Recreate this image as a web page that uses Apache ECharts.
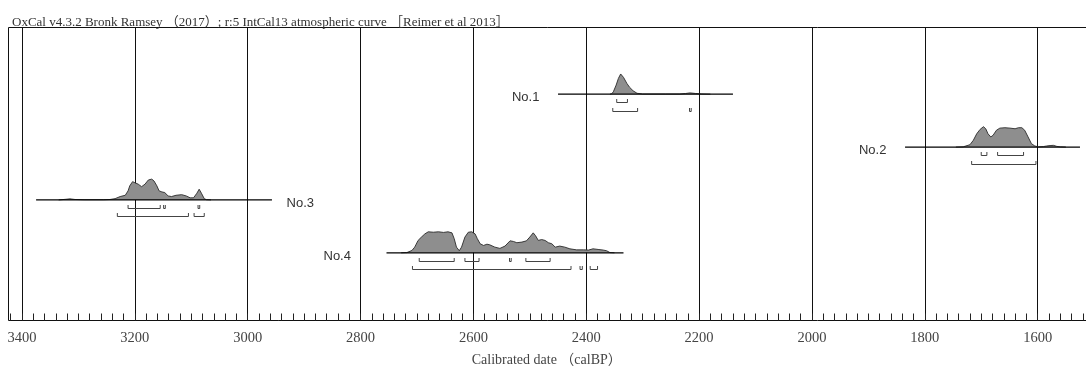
<!DOCTYPE html>
<html>
<head>
<meta charset="utf-8">
<script src="https://cdn.jsdelivr.net/npm/echarts@6/dist/echarts.min.js"></script>
<style>html,body{margin:0;padding:0;background:#fff}#c{width:1086px;height:367px}</style>
</head>
<body>
<div id="c"></div>
<script>
// ---------- data ----------
const titleText = 'OxCal v4.3.2 Bronk Ramsey （2017）; r:5 IntCal13 atmospheric curve ［Reimer et al 2013］';
const axisTitle = 'Calibrated date （calBP）';
const tickLabels = [3400, 3200, 3000, 2800, 2600, 2400, 2200, 2000, 1800, 1600];
const axisMin = 1520, axisMax = 3420, minorStep = 20, majorStep = 200;

const samples = ['No.1', 'No.2', 'No.3', 'No.4'];
const rows = [1, 2, 3, 4];
const lineStart = [2450, 1835, 3375, 2754];
const lineEnd = [2140, 1525, 2957, 2334];
const labelAt = [2483, 1868, 2931, 2817];
const labelSide = ['left', 'left', 'right', 'left'];

// relative probability (1 = maximum plotted height)
const densityNo1 = [[2358,0],[2355,0.02],[2352,0.11],[2347,0.43],[2343,0.75],[2339,0.96],[2334,0.80],[2328,0.51],[2323,0.32],[2317,0.16],[2310,0.04],[2300,0.01],[2260,0.01],[2234,0.01],[2224,0.03],[2216,0.06],[2206,0.03],[2195,0.01],[2180,0]];
const densityNo2 = [[1745,0],[1732,0.01],[1720,0.11],[1714,0.32],[1708,0.63],[1702,0.84],[1696,0.97],[1692,0.87],[1688,0.63],[1683,0.48],[1679,0.56],[1673,0.80],[1667,0.90],[1658,0.92],[1649,0.90],[1640,0.87],[1634,0.92],[1628,0.92],[1623,0.80],[1617,0.48],[1611,0.16],[1605,0.05],[1599,0.01],[1590,0.02],[1584,0.05],[1578,0.07],[1572,0.08],[1566,0.03],[1560,0.01],[1550,0]];
const densityNo3 = [[3335,0],[3322,0.03],[3315,0.05],[3306,0.02],[3290,0.01],[3255,0.01],[3244,0.02],[3235,0.06],[3226,0.16],[3217,0.22],[3212,0.43],[3209,0.67],[3204,0.87],[3200,0.82],[3194,0.75],[3188,0.63],[3182,0.75],[3176,0.95],[3170,0.99],[3166,0.90],[3161,0.67],[3157,0.43],[3152,0.38],[3147,0.35],[3141,0.19],[3135,0.16],[3127,0.22],[3117,0.25],[3109,0.19],[3102,0.10],[3096,0.10],[3090,0.32],[3086,0.51],[3082,0.32],[3077,0.06],[3073,0.01],[3065,0]];
const densityNo4 = [[2728,0],[2718,0.01],[2709,0.11],[2704,0.27],[2698,0.59],[2692,0.75],[2686,0.90],[2680,1.0],[2671,0.98],[2662,1.0],[2653,0.97],[2645,1.0],[2638,0.95],[2634,0.67],[2630,0.27],[2625,0.10],[2621,0.27],[2615,0.75],[2609,0.98],[2603,1.0],[2597,0.90],[2593,0.67],[2588,0.43],[2582,0.35],[2576,0.41],[2571,0.38],[2562,0.27],[2553,0.21],[2544,0.32],[2535,0.57],[2529,0.54],[2523,0.48],[2514,0.51],[2506,0.57],[2500,0.75],[2494,0.95],[2490,0.82],[2485,0.59],[2479,0.63],[2473,0.59],[2467,0.48],[2461,0.43],[2455,0.27],[2447,0.32],[2438,0.27],[2429,0.19],[2417,0.14],[2405,0.14],[2396,0.13],[2388,0.19],[2379,0.16],[2370,0.13],[2364,0.10],[2358,0.01],[2350,0]];
const densities = [densityNo1, densityNo2, densityNo3, densityNo4];

// 68.2% and 95.4% probability ranges
const ranges68 = [
  [[2346,2327]],
  [[1700,1690],[1671,1625]],
  [[3212,3155],[3149,3146],[3088,3085]],
  [[2696,2634],[2615,2590],[2536,2533],[2507,2464]]
];
const ranges95 = [
  [[2353,2309],[2217,2214]],
  [[1717,1603]],
  [[3231,3105],[3095,3077]],
  [[2708,2427],[2411,2407],[2393,2380]]
];

// ---------- chart ----------
const serif = "'Liberation Serif', 'Noto Sans CJK JP', serif";
const sans = "'Liberation Sans', Arial, sans-serif";
const chart = echarts.init(document.getElementById('c'), null, {renderer: 'canvas'});

const splitColors = [];
const period = majorStep / minorStep;
for (let k = 0; k < period; k++) {
  splitColors.push(((axisMin + k * minorStep) % majorStep === 0) ? '#111' : 'rgba(0,0,0,0)');
}

function renderItem(params, api) {
  const i = api.value(2);
  const row = rows[i];
  const peakPx = 21;
  const children = [];
  const dens = densities[i];
  const base = (v) => api.coord([v, row]);
  // filled distribution
  const pts = dens.map(p => { const c = base(p[0]); return [c[0], c[1] - p[1] * peakPx]; });
  const first = base(dens[0][0]), last = base(dens[dens.length - 1][0]);
  const poly = [first].concat(pts).concat([last]);
  children.push({type: 'polygon', shape: {points: poly}, style: {fill: '#8e8e8e', stroke: null}});
  children.push({type: 'polyline', shape: {points: pts}, style: {stroke: '#2a2a2a', lineWidth: 0.9, fill: null}});
  // baseline
  const a = base(lineStart[i]), b = base(lineEnd[i]);
  children.push({type: 'line', shape: {x1: a[0], y1: a[1], x2: b[0], y2: b[1]}, style: {stroke: '#000', lineWidth: 1.3}});
  // range brackets
  const brk = (list, off) => list.forEach(r => {
    const p = base(r[0]), q = base(r[1]);
    const y = Math.round(p[1] + off) + 0.5;
    children.push({type: 'polyline', shape: {points: [[p[0], y - 3.5], [p[0], y], [q[0], y], [q[0], y - 3.5]]},
      style: {stroke: '#444', lineWidth: 1, fill: null}});
  });
  brk(ranges68[i], 8.2);
  brk(ranges95[i], 16.5);
  // label
  const l = base(labelAt[i]);
  children.push({type: 'text', x: l[0], y: l[1] + 3.5,
    style: {text: samples[i], fill: '#333', font: '13px ' + sans,
      align: labelSide[i] === 'left' ? 'right' : 'left', verticalAlign: 'middle'}});
  return {type: 'group', children};
}

const option = {
  animation: false,
  backgroundColor: '#fff',
  title: {
    text: titleText, left: 7, top: 11,
    textStyle: {fontFamily: serif, fontSize: 13, fontWeight: 'normal', color: '#333'}
  },
  grid: [
    {left: 8.5, right: -5, top: 27.5, bottom: 46.5, show: true, borderColor: '#111', borderWidth: 1,
      backgroundColor: 'rgba(0,0,0,0)', outerBoundsMode: 'none', containLabel: false},
    {left: 10.7, right: 3.2, top: 27.5, bottom: 46.5, outerBoundsMode: 'none', containLabel: false}
  ],
  xAxis: [
    {gridIndex: 0, type: 'value', min: 0, max: 1, show: false},
    {
      gridIndex: 1, type: 'value', position: 'bottom', inverse: true, min: axisMin, max: axisMax, interval: minorStep,
      axisLine: {show: false, onZero: false},
      axisTick: {show: true, inside: true, length: 7, lineStyle: {color: '#222', width: 1}},
      axisLabel: {
        margin: 10, color: '#444', fontFamily: serif, fontSize: 14.5,
        formatter: v => (tickLabels.indexOf(v) >= 0 ? String(v) : '')
      },
      splitLine: {show: true, lineStyle: {color: splitColors, width: 1}},
      name: axisTitle, nameLocation: 'middle', nameGap: 33,
      nameTextStyle: {fontFamily: serif, fontSize: 14, color: '#444'}
    }
  ],
  yAxis: [
    {gridIndex: 0, type: 'value', min: 0, max: 1, show: false},
    {gridIndex: 1, type: 'value', inverse: true, min: -0.26, max: 5.28, show: false}
  ],
  series: [{
    type: 'custom', xAxisIndex: 1, yAxisIndex: 1,
    renderItem: renderItem,
    encode: {x: 0, y: 1},
    clip: false,
    data: samples.map((s, i) => [lineStart[i], rows[i], i])
  }]
};
chart.setOption(option);
</script>
</body>
</html>
